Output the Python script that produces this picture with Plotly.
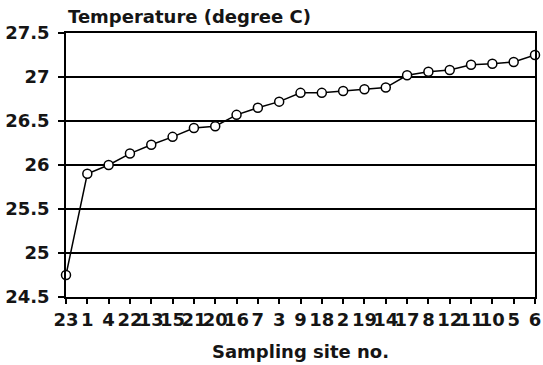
import plotly.graph_objects as go

sites = ["23", "1", "4", "22", "13", "15", "21", "20", "16", "7", "3", "9",
         "18", "2", "19", "14", "17", "8", "12", "11", "10", "5", "6"]
temperature = [24.75, 25.90, 26.00, 26.13, 26.23, 26.32, 26.42, 26.44, 26.57,
               26.65, 26.72, 26.82, 26.82, 26.84, 26.86, 26.88, 27.02, 27.06,
               27.08, 27.14, 27.15, 27.17, 27.25]
y_ticks = [24.5, 25, 25.5, 26, 26.5, 27, 27.5]
y_tick_text = ["24.5", "25", "25.5", "26", "26.5", "27", "27.5"]

idx = list(range(len(sites)))
FONT = "DejaVu Sans"
TXT = "#151515"

fig = go.Figure()
fig.add_trace(go.Scatter(
    x=idx, y=temperature, mode="lines+markers",
    line=dict(color="black", width=1.5),
    marker=dict(symbol="circle", size=9, color="white",
                line=dict(color="black", width=1.5)),
    showlegend=False, cliponaxis=False,
))

fig.update_layout(
    width=543, height=365,
    margin=dict(l=66, r=8, t=33, b=68),
    paper_bgcolor="white", plot_bgcolor="white",
    font=dict(family=FONT, color=TXT, size=18),
    xaxis=dict(
        range=[0, len(sites) - 1], tickmode="array", tickvals=idx,
        ticktext=sites, tickangle=0, ticks="outside", ticklen=5,
        tickwidth=1.5, tickcolor="black", showgrid=False, zeroline=False,
        showline=True, linecolor="black", linewidth=1.5, mirror=True,
        automargin=False, ticklabelstandoff=1,
        tickfont=dict(family=FONT, size=18, color=TXT, weight="bold"),
    ),
    yaxis=dict(
        range=[24.5, 27.5], tickmode="array", tickvals=y_ticks,
        ticktext=y_tick_text, ticks="outside", ticklen=6, tickwidth=1.5,
        tickcolor="black", showgrid=True, gridcolor="black", gridwidth=1.5,
        zeroline=False, showline=True, linecolor="black", linewidth=1.5,
        mirror=True, automargin=False, ticklabelstandoff=5,
        tickfont=dict(family=FONT, size=18, color=TXT, weight="bold"),
    ),
    annotations=[
        dict(text="Temperature (degree C)", xref="paper", yref="paper",
             x=0.0, y=1.064, xanchor="left", yanchor="middle",
             showarrow=False,
             font=dict(family=FONT, size=18, color=TXT, weight="bold")),
        dict(text="Sampling site no.", xref="paper", yref="paper",
             x=0.5, y=-0.208, xanchor="center", yanchor="middle",
             showarrow=False,
             font=dict(family=FONT, size=18, color=TXT, weight="bold")),
    ],
)

fig.write_html("out.html",
               config={"displayModeBar": False},
               post_script="document.body.style.margin='0';")
